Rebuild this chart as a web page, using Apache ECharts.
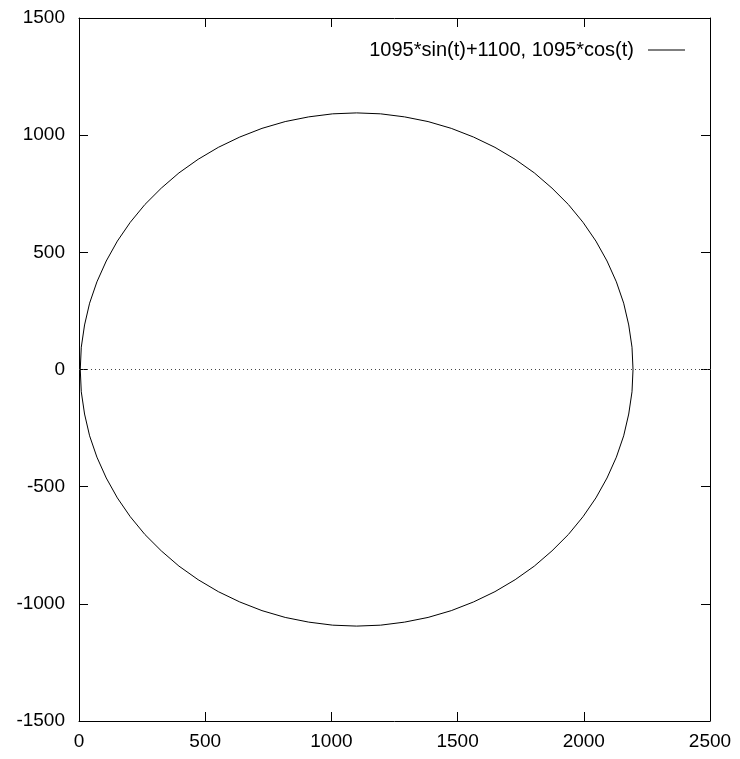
<!DOCTYPE html>
<html>
<head>
<meta charset="utf-8">
<script src="https://cdn.jsdelivr.net/npm/echarts@6/dist/echarts.min.js"></script>
<style>
  html, body { margin: 0; padding: 0; background: #fff; }
  #chart { width: 740px; height: 759px; }
</style>
</head>
<body>
<div id="chart"></div>
<script>
// curve points (x, y), going round clockwise from the top
var curveX = [1100, 1195, 1290, 1383, 1475, 1563, 1648, 1728, 1804, 1874, 1939, 1997,
  2048, 2092, 2129, 2158, 2178, 2191, 2195, 2191, 2178, 2158, 2129, 2092,
  2048, 1997, 1939, 1874, 1804, 1728, 1648, 1563, 1475, 1383, 1290, 1195,
  1100, 1005, 910, 817, 725, 637, 552, 472, 396, 326, 261, 203,
  152, 108, 71, 42, 22, 9, 5, 9, 22, 42, 71, 108,
  152, 203, 261, 326, 396, 472, 552, 637, 725, 817, 910, 1005, 1100];
var curveY = [1095, 1091, 1078, 1058, 1029, 992, 948, 897, 839, 774, 704, 628,
  548, 463, 374, 283, 190, 95, 0, -95, -190, -283, -374, -463,
  -548, -628, -704, -774, -839, -897, -948, -992, -1029, -1058, -1078, -1091,
  -1095, -1091, -1078, -1058, -1029, -992, -948, -897, -839, -774, -704, -628,
  -548, -463, -374, -283, -190, -95, 0, 95, 190, 283, 374, 463,
  548, 628, 704, 774, 839, 897, 948, 992, 1029, 1058, 1078, 1091, 1095];
var seriesName = '1095*sin(t)+1100, 1095*cos(t)';
var xRange = [0, 2500, 500];
var yRange = [-1500, 1500, 500];
var zeroLine = 0;

var curve = [];
for (var i = 0; i < curveX.length; i++) {
  curve.push([curveX[i], curveY[i]]);
}

var chart = echarts.init(document.getElementById('chart'));

var font = 'Liberation Sans, Arial, sans-serif';
var axisBase = {
  type: 'value',
  axisLine: { show: true, onZero: false, lineStyle: { color: '#000', width: 1 } },
  axisTick: { show: true, inside: true, length: 9, lineStyle: { color: '#000' } },
  splitLine: { show: false }
};

function mkAxis(range, pos, labels, margin) {
  return Object.assign({}, axisBase, {
    position: pos,
    min: range[0],
    max: range[1],
    interval: range[2],
    axisLabel: {
      show: labels,
      color: '#000',
      fontSize: 19,
      fontFamily: font,
      margin: margin,
      formatter: function (v) { return String(v); }
    }
  });
}

var option = {
  animation: false,
  backgroundColor: '#fff',
  grid: { left: 79, right: 30, top: 18, bottom: 38 },
  legend: {
    top: 35,
    right: 50,
    align: 'right',
    itemWidth: 37,
    itemHeight: 1,
    itemGap: 0,
    textStyle: { color: '#000', fontSize: 20, fontFamily: font, padding: [0, 9, 0, 0] },
    data: [{ name: seriesName, icon: 'rect' }]
  },
  xAxis: [mkAxis(xRange, 'bottom', true, 11), mkAxis(xRange, 'top', false, 8)],
  yAxis: [mkAxis(yRange, 'left', true, 14), mkAxis(yRange, 'right', false, 8)],
  series: [{
    name: seriesName,
    type: 'line',
    data: curve,
    symbol: 'none',
    lineStyle: { color: '#000', width: 1 },
    itemStyle: { color: '#000' },
    markLine: {
      silent: true,
      symbol: 'none',
      label: { show: false },
      lineStyle: { color: '#444', type: [1, 3], width: 1 },
      data: [{ yAxis: zeroLine }]
    }
  }]
};

chart.setOption(option);
</script>
</body>
</html>
